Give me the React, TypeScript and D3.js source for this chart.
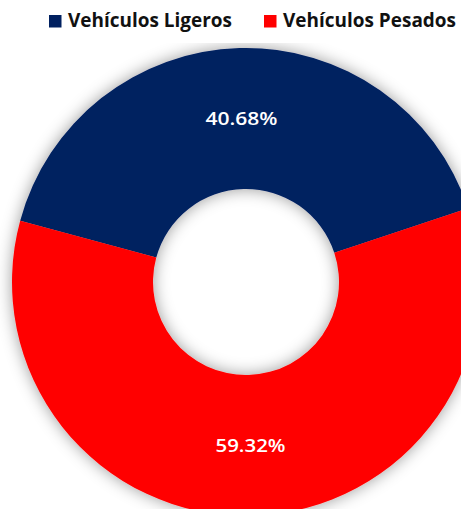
import * as d3 from 'd3';

const categories = ["Vehículos Ligeros", "Vehículos Pesados"];
const shares = [40.68, 59.32];
const labels = ["40.68%", "59.32%"];
const colors = ["#002060", "#FF0000"];

function App() {
    const width = 461;
    const height = 509;
    const cx = 246;
    const cy = 282;
    const outerR = 234;
    const innerR = 93;
    const start = (-74.8 * Math.PI) / 180;

    const pie = d3.pie<number>()
        .sort(null)
        .startAngle(start)
        .endAngle(start + 2 * Math.PI);
    const arcs = pie(shares);

    const arc = d3.arc<d3.PieArcDatum<number>>()
        .innerRadius(innerR)
        .outerRadius(outerR);
    const labelArc = d3.arc<d3.PieArcDatum<number>>()
        .innerRadius((innerR + outerR) / 2)
        .outerRadius((innerR + outerR) / 2);

    // legend layout
    const legendX = [49, 264];
    const legendTextLen = [164, 173];
    const labelLen = [72, 70];

    return (
        <div style={{ position: 'absolute', left: 0, top: 0 }}>
            <svg width={width} height={height} style={{ display: 'block', background: '#fff' }}>
                <defs>
                    <filter id="glow" x="-20%" y="-20%" width="140%" height="140%">
                        <feGaussianBlur in="SourceAlpha" stdDeviation="8" result="blur" />
                        <feFlood floodColor="#000" floodOpacity="0.4" />
                        <feComposite in2="blur" operator="in" result="shadow" />
                        <feMerge>
                            <feMergeNode in="shadow" />
                            <feMergeNode in="SourceGraphic" />
                        </feMerge>
                    </filter>
                    <clipPath id="plot">
                        <rect x={0} y={43} width={width} height={height - 43} />
                    </clipPath>
                </defs>

                <g clipPath="url(#plot)">
                    <g transform={`translate(${cx},${cy})`} filter="url(#glow)">
                        {arcs.map((a, i) => (
                            <path key={i} d={arc(a) || ''} fill={colors[i]} />
                        ))}
                    </g>
                </g>

                <g transform={`translate(${cx},${cy})`}>
                    {arcs.map((a, i) => {
                        const [lx, ly] = labelArc.centroid(a);
                        return (
                            <text
                                key={i}
                                x={lx}
                                y={ly}
                                dy="0.35em"
                                textAnchor="middle"
                                fill="#fff"
                                fontFamily="'Open Sans', sans-serif"
                                fontWeight="600"
                                fontSize={18}
                                textLength={labelLen[i]}
                                lengthAdjust="spacingAndGlyphs"
                            >
                                {labels[i]}
                            </text>
                        );
                    })}
                </g>

                {/* legend */}
                {categories.map((c, i) => (
                    <g key={c}>
                        <rect x={legendX[i]} y={15} width={12.5} height={12.5} fill={colors[i]} />
                        <text
                            x={legendX[i] + 19}
                            y={27}
                            fill="#111"
                            fontFamily="'Open Sans', sans-serif"
                            fontWeight="bold"
                            fontSize={19}
                            textLength={legendTextLen[i]}
                            lengthAdjust="spacingAndGlyphs"
                        >
                            {c}
                        </text>
                    </g>
                ))}
            </svg>
        </div>
    );
}

export default App;
